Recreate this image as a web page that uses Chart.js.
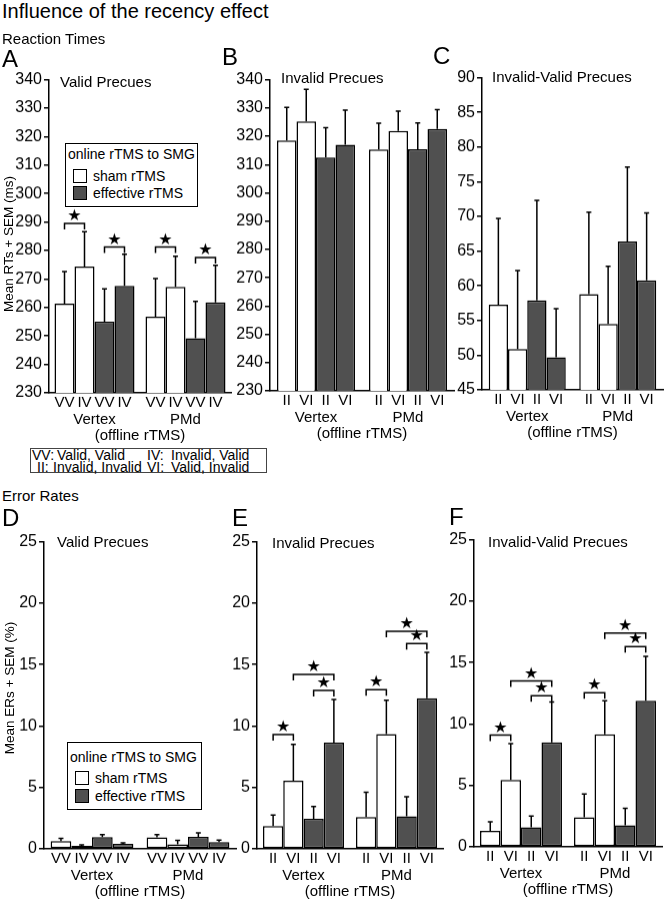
<!DOCTYPE html>
<html>
<head>
<meta charset="utf-8">
<title>Influence of the recency effect</title>
<script src="https://cdn.jsdelivr.net/npm/chart.js@4.4.1/dist/chart.umd.min.js"></script>
<style>
  body { margin: 0; background: #fff; }
  #page { position: relative; width: 665px; height: 900px; overflow: hidden; font-family: "Liberation Sans", Arial, Helvetica, sans-serif; color: #000; }
  .t { position: absolute; white-space: pre; line-height: 1; }
  .box { position: absolute; box-sizing: border-box; background: #fff; }
  .sw { position: absolute; box-sizing: border-box; border: 1.5px solid #000; }
</style>
</head>
<body>
<div id="page"></div>
<script>
// groups and condition labels
var groups = ['Vertex', 'PMd'];
var validConds = ['VV', 'IV'];
var invalidConds = ['II', 'VI'];

// values per panel: [Vertex cond1, Vertex cond2, PMd cond1, PMd cond2]
// Reaction times (ms)
var rtValidSham = [261.3, 274.4, 256.8, 267.2];
var rtValidShamSem = [11.3, 12.2, 13.3, 10.8];
var rtValidEff = [255.0, 267.6, 249.2, 261.8];
var rtValidEffSem = [11.5, 11.1, 12.9, 13.0];
var rtValidStars = [[0, 1, 289.5], [2, 3, 281.2], [4, 5, 281.2], [6, 7, 277.5]];

var rtInvalidSham = [318.5, 325.2, 315.3, 321.9];
var rtInvalidShamSem = [11.7, 11.4, 9.3, 7.0];
var rtInvalidEff = [312.5, 317.0, 315.4, 322.6];
var rtInvalidEffSem = [10.5, 12.2, 9.3, 6.8];

var rtDiffSham = [57.3, 50.9, 58.8, 54.5];
var rtDiffShamSem = [12.4, 11.3, 11.8, 8.3];
var rtDiffEff = [57.9, 49.7, 66.4, 60.8];
var rtDiffEffSem = [14.4, 7.0, 10.7, 9.7];

// Error rates (%)
var erValidSham = [0.64, 0.24, 0.93, 0.37];
var erValidShamSem = [0.21, 0.08, 0.24, 0.32];
var erValidEff = [0.96, 0.40, 0.98, 0.56];
var erValidEffSem = [0.21, 0.08, 0.32, 0.16];

var erInvalidSham = [1.85, 5.55, 2.6, 9.35];
var erInvalidShamSem = [0.9, 2.95, 2.0, 2.75];
var erInvalidEff = [2.45, 8.65, 2.65, 12.25];
var erInvalidEffSem = [1.0, 3.5, 1.6, 3.75];
var erInvalidStars = [[0, 1, 9.3], [2, 3, 12.9], [1, 3, 14.2], [4, 5, 12.95], [6, 7, 16.7], [5, 7, 17.7]];

var erDiffSham = [1.3, 5.45, 2.4, 9.15];
var erDiffShamSem = [0.75, 2.95, 1.9, 2.75];
var erDiffEff = [1.6, 8.5, 1.75, 11.9];
var erDiffEffSem = [0.9, 3.3, 1.4, 3.6];
var erDiffStars = [[0, 1, 9.1], [2, 3, 12.3], [1, 3, 13.5], [4, 5, 12.55], [6, 7, 16.3], [5, 7, 17.4]];

var FONT = '"Liberation Sans", Arial, Helvetica, sans-serif';
var WHITE = '#ffffff';
var DARK = '#505050';
var page = document.getElementById('page');

// x, y, w, h = plot area in page pixels
var panels = [
  { x: 49, y: 80, w: 182, h: 313, cat: 0.879, min: 230, max: 340, step: 10, conds: validConds,
    sham: rtValidSham, shamSem: rtValidShamSem, eff: rtValidEff, effSem: rtValidEffSem, stars: rtValidStars },
  { x: 270, y: 80, w: 184, h: 311, cat: 0.848, min: 230, max: 340, step: 10, conds: invalidConds,
    sham: rtInvalidSham, shamSem: rtInvalidShamSem, eff: rtInvalidEff, effSem: rtInvalidEffSem, stars: [] },
  { x: 482, y: 78, w: 181, h: 312, cat: 0.851, min: 45, max: 90, step: 5, conds: invalidConds,
    sham: rtDiffSham, shamSem: rtDiffShamSem, eff: rtDiffEff, effSem: rtDiffEffSem, stars: [] },
  { x: 44, y: 542, w: 192, h: 307, cat: 0.862, min: 0, max: 25, step: 5, conds: validConds,
    sham: erValidSham, shamSem: erValidShamSem, eff: erValidEff, effSem: erValidEffSem, stars: [] },
  { x: 257, y: 542, w: 186, h: 307, cat: 0.871, min: 0, max: 25, step: 5, conds: invalidConds,
    sham: erInvalidSham, shamSem: erInvalidShamSem, eff: erInvalidEff, effSem: erInvalidEffSem, stars: erInvalidStars },
  { x: 474, y: 540, w: 188, h: 307, cat: 0.872, min: 0, max: 25, step: 5, conds: invalidConds,
    sham: erDiffSham, shamSem: erDiffShamSem, eff: erDiffEff, effSem: erDiffEffSem, stars: erDiffStars }
];

function bars(vals, sems, k, color) {
  return {
    data: [vals[k], vals[2 + k]],
    sem: [sems[k], sems[2 + k]],
    backgroundColor: color,
    borderColor: '#000',
    borderWidth: 1.5,
    borderSkipped: false,
    barPercentage: 1
  };
}

// error bars, significance brackets and the labels under the bars
function marks(p) {
  return {
    id: 'marks',
    afterDatasetsDraw: function (chart) {
      var ctx = chart.ctx, y = chart.scales.y, area = chart.chartArea;
      var list = [];
      for (var g = 0; g < 2; g++) {
        for (var d = 0; d < 4; d++) {
          list.push(chart.getDatasetMeta(d).data[g]);
        }
      }
      ctx.save();
      ctx.strokeStyle = '#000';
      ctx.fillStyle = '#000';
      ctx.lineWidth = 1.5;

      chart.data.datasets.forEach(function (ds, d) {
        chart.getDatasetMeta(d).data.forEach(function (bar, g) {
          var top = y.getPixelForValue(ds.data[g] + ds.sem[g]);
          ctx.beginPath();
          ctx.moveTo(bar.x, bar.y);
          ctx.lineTo(bar.x, top);
          ctx.moveTo(bar.x - 2.5, top);
          ctx.lineTo(bar.x + 2.5, top);
          ctx.stroke();
        });
      });

      ctx.textAlign = 'center';
      ctx.textBaseline = 'middle';
      ctx.font = '16px "DejaVu Sans"';
      p.stars.forEach(function (s) {
        var x1 = list[s[0]].x, x2 = list[s[1]].x, yy = y.getPixelForValue(s[2]);
        ctx.beginPath();
        ctx.moveTo(x1, yy + 6);
        ctx.lineTo(x1, yy);
        ctx.lineTo(x2, yy);
        ctx.lineTo(x2, yy + 6);
        ctx.stroke();
        ctx.fillText('\u2605', (x1 + x2) / 2, yy - 7);
      });

      ctx.font = '15px ' + FONT;
      list.forEach(function (b, k) {
        ctx.fillText(p.conds[k % 2], b.x, area.bottom + 10);
      });
      chart.data.labels.forEach(function (name, g) {
        ctx.fillText(name, (list[g * 4].x + list[g * 4 + 3].x) / 2, area.bottom + 27);
      });
      ctx.fillText('(offline rTMS)', (list[0].x + list[7].x) / 2, area.bottom + 43);
      ctx.restore();
    }
  };
}

function config(p) {
  return {
    type: 'bar',
    data: {
      labels: groups,
      datasets: [
        bars(p.sham, p.shamSem, 0, WHITE),
        bars(p.sham, p.shamSem, 1, WHITE),
        bars(p.eff, p.effSem, 0, DARK),
        bars(p.eff, p.effSem, 1, DARK)
      ]
    },
    options: {
      responsive: false,
      animation: false,
      layout: { padding: { top: 10, right: 4, left: 0, bottom: 0 } },
      datasets: { bar: { categoryPercentage: p.cat } },
      plugins: { legend: { display: false }, tooltip: { enabled: false } },
      scales: {
        x: {
          grid: { display: false },
          ticks: { display: false },
          border: { color: '#000', width: 1.5 },
          afterFit: function (s) { s.height = 52; }
        },
        y: {
          min: p.min,
          max: p.max,
          beginAtZero: false,
          ticks: { stepSize: p.step, color: '#000', padding: 2, font: { family: FONT, size: 16 } },
          grid: { drawOnChartArea: false, color: '#000', lineWidth: 1.5, tickLength: 5 },
          border: { color: '#000', width: 1.5 },
          afterFit: function (s) { s.width = 44; }
        }
      }
    },
    plugins: [marks(p)]
  };
}

function makeChart(p) {
  var wrap = document.createElement('div');
  wrap.style.position = 'absolute';
  page.appendChild(wrap);
  function build(w, h) {
    wrap.innerHTML = '';
    var cv = document.createElement('canvas');
    cv.width = w;
    cv.height = h;
    cv.style.width = w + 'px';
    cv.style.height = h + 'px';
    wrap.appendChild(cv);
    return new Chart(cv, config(p));
  }
  // first pass measures the margins round the plot area
  var probe = build(p.w + 100, p.h + 100);
  var a = probe.chartArea;
  var ml = a.left, mt = a.top, mr = probe.width - a.right, mb = probe.height - a.bottom;
  probe.destroy();
  build(p.w + ml + mr, p.h + mt + mb);
  wrap.style.left = (p.x - ml) + 'px';
  wrap.style.top = (p.y - mt) + 'px';
}

panels.forEach(makeChart);

// text
function text(str, left, cy, size) {
  var el = document.createElement('div');
  el.className = 't';
  el.textContent = str;
  el.style.left = left + 'px';
  el.style.top = (cy - size / 2) + 'px';
  el.style.fontSize = size + 'px';
  page.appendChild(el);
  return el;
}
function vtext(str, cx, cy, size) {
  var el = text(str, 0, cy, size);
  el.style.left = cx + 'px';
  el.style.transformOrigin = '0 0';
  el.style.transform = 'rotate(-90deg) translate(-50%, -50%)';
  el.style.top = cy + 'px';
  return el;
}

text('Influence of the recency effect', 2, 11, 20);
text('Reaction Times', 2, 38, 15);
text('A', 2, 59, 24);
text('B', 222, 57, 24);
text('C', 433, 56, 24);
text('Valid Precues', 60, 81, 15);
text('Invalid Precues', 281, 77, 15);
text('Invalid-Valid Precues', 492, 76, 15);
vtext('Mean RTs + SEM (ms)', 9, 244, 13.5);

text('Error Rates', 2, 495, 15);
text('D', 2, 518, 24);
text('E', 232, 518, 24);
text('F', 449, 517, 24);
text('Valid Precues', 57, 541, 15);
text('Invalid Precues', 272, 542, 15);
text('Invalid-Valid Precues', 488, 541, 15);
vtext('Mean ERs + SEM (%)', 10, 688, 13.5);

// legends
function legend(left, top, w, h, rows) {
  var box = document.createElement('div');
  box.className = 'box';
  box.style.left = left + 'px';
  box.style.top = top + 'px';
  box.style.width = w + 'px';
  box.style.height = h + 'px';
  box.style.border = '1.5px solid #000';
  page.appendChild(box);
  text('online rTMS to SMG', left + 3, top + rows[0], 14);
  [['sham rTMS', WHITE], ['effective rTMS', DARK]].forEach(function (item, i) {
    var sw = document.createElement('div');
    sw.className = 'sw';
    sw.style.left = (left + 8) + 'px';
    sw.style.top = (top + rows[i + 1] - 7) + 'px';
    sw.style.width = '14px';
    sw.style.height = '14px';
    sw.style.background = item[1];
    page.appendChild(sw);
    text(item[0], left + 28, top + rows[i + 1], 14);
  });
}
legend(65, 143, 133, 64, [11, 33, 50]);
legend(67, 742, 135, 68, [15, 36, 54]);

// key of condition codes
var key = document.createElement('div');
key.className = 'box';
key.style.left = '30px';
key.style.top = '448px';
key.style.width = '237px';
key.style.height = '25px';
key.style.border = '1.2px solid #444';
page.appendChild(key);
text('VV:', 32, 455, 14);
text('Valid, Valid', 57, 455, 14);
text('IV:', 147, 455, 14);
text('Invalid, Valid', 171, 455, 14);
text('II:', 37, 467, 14);
text('Invalid, Invalid', 53, 467, 14);
text('VI:', 147, 467, 14);
text('Valid, Invalid', 171, 467, 14);
</script>
</body>
</html>
